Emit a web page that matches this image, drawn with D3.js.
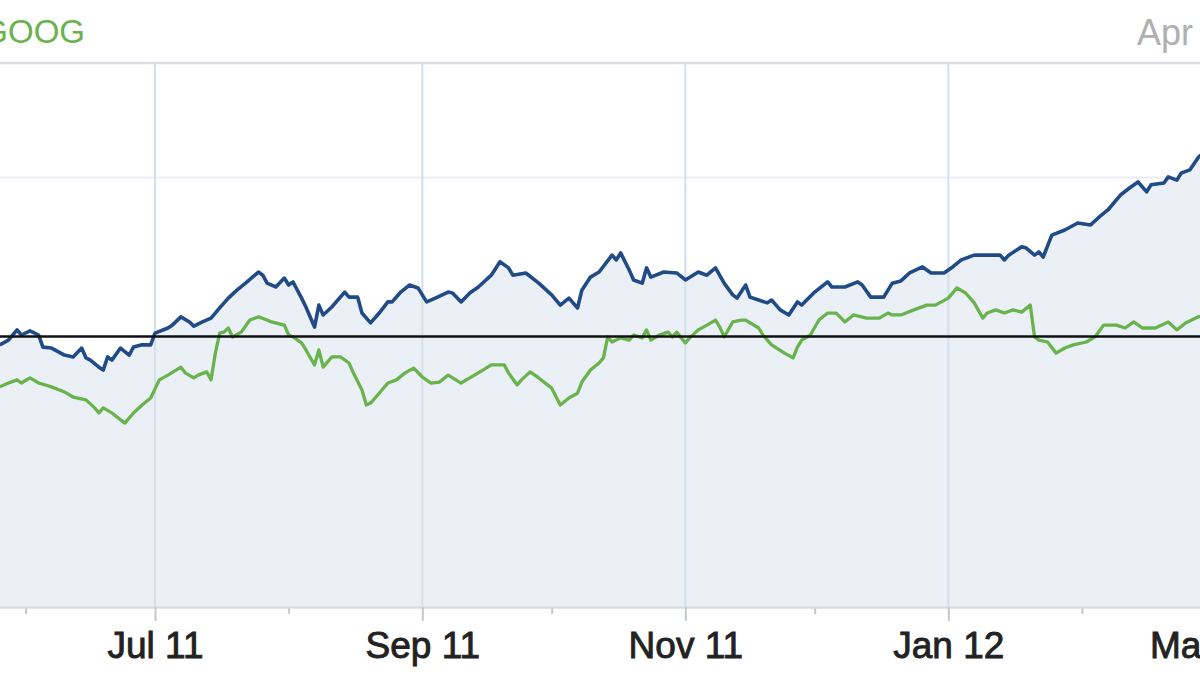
<!DOCTYPE html>
<html><head><meta charset="utf-8">
<script src="https://cdn.jsdelivr.net/npm/d3@7"></script>
<style>body{margin:0;background:#fff}svg{display:block}</style>
</head><body>
<svg id="chart" width="1200" height="675"></svg>
<script>
// ---- data (percent change from start of period) ----
const blueDates = ["2011-05-26","2011-05-28","2011-05-29","2011-05-30","2011-05-31","2011-06-02","2011-06-04","2011-06-05","2011-06-07","2011-06-10","2011-06-12","2011-06-14","2011-06-15","2011-06-16","2011-06-18","2011-06-19","2011-06-20","2011-06-21","2011-06-23","2011-06-25","2011-06-26","2011-06-28","2011-06-30",
"2011-07-01","2011-07-04","2011-07-05","2011-07-07","2011-07-09","2011-07-10","2011-07-12","2011-07-14","2011-07-16","2011-07-18","2011-07-20","2011-07-22","2011-07-25","2011-07-26","2011-07-27","2011-07-29","2011-07-31",
"2011-08-01","2011-08-02","2011-08-04","2011-08-05","2011-08-07","2011-08-08","2011-08-09","2011-08-11","2011-08-14","2011-08-15","2011-08-17","2011-08-18","2011-08-20","2011-08-22","2011-08-24","2011-08-25","2011-08-27","2011-08-29","2011-08-31",
"2011-09-02","2011-09-04","2011-09-07","2011-09-08","2011-09-10","2011-09-12","2011-09-14","2011-09-17","2011-09-19","2011-09-21","2011-09-22","2011-09-25","2011-09-28",
"2011-10-01","2011-10-03","2011-10-05","2011-10-07","2011-10-08","2011-10-10","2011-10-12","2011-10-15","2011-10-16","2011-10-17","2011-10-19","2011-10-20","2011-10-22","2011-10-23","2011-10-24","2011-10-27","2011-10-30",
"2011-11-01","2011-11-04","2011-11-06","2011-11-08","2011-11-10","2011-11-12","2011-11-13","2011-11-15","2011-11-16","2011-11-18","2011-11-20","2011-11-21","2011-11-23","2011-11-25","2011-11-27","2011-11-28",
"2011-12-01","2011-12-04","2011-12-05","2011-12-08","2011-12-11","2011-12-12","2011-12-14","2011-12-17","2011-12-19","2011-12-21","2011-12-23","2011-12-26","2011-12-28","2011-12-31",
"2012-01-02","2012-01-04","2012-01-07","2012-01-10","2012-01-13","2012-01-14","2012-01-15","2012-01-18","2012-01-19","2012-01-21","2012-01-22","2012-01-23","2012-01-25","2012-01-28","2012-01-31",
"2012-02-03","2012-02-05","2012-02-07","2012-02-10","2012-02-12","2012-02-14","2012-02-16","2012-02-17","2012-02-20","2012-02-21","2012-02-23","2012-02-24","2012-02-26","2012-02-28","2012-03-01"];
const blueValues = [-2.6,-1.1,0.5,2.1,0.5,1.8,0.5,-3.3,-3.6,-5.8,-6.4,-3.6,-6.7,-7.4,-9.6,-10.5,-6.4,-7.4,-3.6,-5.8,-3.3,-2.6,-2.6,
1.1,2.7,3.6,6.2,4.6,3.3,4.6,5.8,9.0,12.1,14.6,16.8,20.3,19.3,16.8,15.6,18.4,
16.2,17.2,12.1,9.3,3.0,9.9,6.8,9.3,14.0,12.4,12.4,7.4,4.3,7.4,10.9,10.9,14.0,16.2,15.3,
10.9,12.1,14.0,13.7,10.9,13.7,15.6,19.3,23.5,21.6,19.3,20.0,16.8,
13.1,9.9,12.1,9.0,14.6,18.7,20.3,25.6,24.1,26.3,20.9,17.8,16.8,21.6,18.7,20.3,20.0,
17.8,20.3,19.3,21.6,16.8,13.1,12.1,16.2,12.4,11.5,10.6,11.5,8.4,6.8,10.9,9.9,
14.0,17.2,15.6,15.6,17.2,16.2,12.4,12.4,16.8,17.5,20.0,21.9,20.0,20.0,
21.9,24.1,25.6,25.6,25.6,24.1,25.6,28.2,27.9,25.6,26.6,25.0,31.9,33.5,35.7,
35.1,37.6,39.8,44.6,46.7,48.6,45.5,47.7,48.3,50.2,49.2,51.4,52.4,56.4,58.7];

const greenDates = ["2011-05-26","2011-05-28","2011-05-30","2011-05-31","2011-06-02","2011-06-04","2011-06-07","2011-06-10","2011-06-12","2011-06-15","2011-06-17","2011-06-18","2011-06-19","2011-06-21","2011-06-24","2011-06-26","2011-06-28","2011-06-30",
"2011-07-02","2011-07-04","2011-07-07","2011-07-08","2011-07-10","2011-07-11","2011-07-13","2011-07-14","2011-07-15","2011-07-16","2011-07-17","2011-07-18","2011-07-19","2011-07-21","2011-07-23","2011-07-25","2011-07-27","2011-07-28","2011-07-31",
"2011-08-01","2011-08-02","2011-08-04","2011-08-05","2011-08-07","2011-08-08","2011-08-09","2011-08-11","2011-08-13","2011-08-15","2011-08-16","2011-08-18","2011-08-19","2011-08-20","2011-08-22","2011-08-24","2011-08-26","2011-08-28","2011-08-30",
"2011-09-01","2011-09-03","2011-09-05","2011-09-07","2011-09-10","2011-09-12","2011-09-14","2011-09-17","2011-09-20","2011-09-21","2011-09-23","2011-09-24","2011-09-26","2011-09-28",
"2011-10-01","2011-10-03","2011-10-05","2011-10-07","2011-10-08","2011-10-10","2011-10-12","2011-10-13","2011-10-14","2011-10-15","2011-10-17","2011-10-19","2011-10-20","2011-10-22","2011-10-23","2011-10-24","2011-10-26","2011-10-28","2011-10-29","2011-10-30",
"2011-11-01","2011-11-02","2011-11-04","2011-11-06","2011-11-08","2011-11-09","2011-11-10","2011-11-12","2011-11-14","2011-11-15","2011-11-18","2011-11-19","2011-11-21","2011-11-24","2011-11-26","2011-11-27","2011-11-28","2011-11-30",
"2011-12-02","2011-12-04","2011-12-06","2011-12-08","2011-12-10","2011-12-13","2011-12-16","2011-12-18","2011-12-19","2011-12-21","2011-12-24","2011-12-27","2011-12-29",
"2012-01-01","2012-01-03","2012-01-05","2012-01-07","2012-01-09","2012-01-10","2012-01-12","2012-01-14","2012-01-16","2012-01-18","2012-01-20","2012-01-21","2012-01-22","2012-01-24","2012-01-26","2012-01-28","2012-01-30",
"2012-02-02","2012-02-04","2012-02-06","2012-02-09","2012-02-11","2012-02-13","2012-02-15","2012-02-18","2012-02-21","2012-02-23","2012-02-25","2012-02-28","2012-03-01"];
const greenValues = [-15.8,-14.6,-13.6,-14.6,-13.0,-14.6,-15.8,-17.4,-19.0,-19.9,-22.4,-24.0,-22.4,-24.0,-27.2,-24.0,-21.5,-19.3,
-13.6,-12.1,-9.6,-11.4,-13.0,-12.1,-11.1,-13.6,-5.2,1.1,1.4,2.7,-0.1,1.4,5.2,6.2,5.2,4.6,3.6,
0.5,-0.1,-2.0,-4.2,-8.9,-4.2,-9.6,-6.4,-6.4,-8.3,-11.4,-16.8,-21.5,-20.9,-17.8,-14.6,-13.6,-11.4,-9.9,
-12.7,-14.6,-14.3,-12.1,-14.6,-13.0,-11.4,-8.9,-8.9,-11.4,-15.2,-13.6,-11.1,-13.0,
-16.2,-21.5,-19.3,-17.8,-14.3,-10.5,-8.3,-6.7,-0.1,-1.7,-0.4,-1.1,0.5,-0.4,2.1,-1.1,0.5,1.4,-0.1,1.4,
-2.0,-0.4,2.1,3.6,5.2,3.0,-0.1,4.6,5.2,5.2,2.7,0.5,-2.6,-5.2,-6.7,-3.3,-1.1,0.5,
5.2,7.4,7.4,4.6,6.8,5.8,5.8,7.4,6.8,6.8,8.4,9.9,9.9,
12.1,15.3,13.7,10.6,5.8,7.4,8.4,7.4,8.4,7.7,9.9,-0.1,-1.1,-1.7,-5.2,-3.6,-2.6,
-1.7,-0.1,3.6,3.6,2.7,4.6,2.7,2.7,4.6,2.1,4.3,6.2,7.0];

const seriesNames = ["GOOG"];
const periodLabel = "Apr";
const majorTickDates = ["2011-07-01","2011-09-01","2011-11-01","2012-01-01","2012-03-01"];
const majorTickLabels = ["Jul 11","Sep 11","Nov 11","Jan 12","Mar 12"];
const minorTickDates = ["2011-06-01","2011-08-01","2011-10-01","2011-12-01","2012-02-01"];
const gridValues = [50];
const baselineValue = 0;

// ---- drawing ----
const parse = d3.timeParse("%Y-%m-%d");
const blue = blueDates.map((d,i)=>({date:parse(d), v:blueValues[i]}));
const green = greenDates.map((d,i)=>({date:parse(d), v:greenValues[i]}));

const W = 1200, plotTop = 63, plotBottom = 607;
const x = d3.scaleTime().domain([parse("2011-07-01"), parse("2012-02-01")]).range([155, 1082]);
const y = d3.scaleLinear().domain([-85, 86]).range([plotBottom, plotTop]);

const svg = d3.select("#chart");
svg.append("defs").append("clipPath").attr("id","plot")
  .append("rect").attr("x",0).attr("y",plotTop).attr("width",W).attr("height",plotBottom-plotTop);

// horizontal grid
svg.append("g").selectAll("line").data(gridValues).join("line")
  .attr("x1",0).attr("x2",W).attr("y1",d=>y(d)).attr("y2",d=>y(d))
  .attr("stroke","#e9eef3").attr("stroke-width",2);

const plot = svg.append("g").attr("clip-path","url(#plot)");
plot.append("path").datum(blue)
  .attr("d", d3.area().x(d=>x(d.date)).y0(y(-85)).y1(d=>y(d.v)))
  .attr("fill","#eaf0f6");

// vertical grid at major ticks
plot.append("g").selectAll("line").data(majorTickDates).join("line")
  .attr("x1",d=>x(parse(d))).attr("x2",d=>x(parse(d)))
  .attr("y1",plotTop).attr("y2",plotBottom)
  .attr("stroke","#d3e0ec").attr("stroke-width",2);

// top frame line
svg.append("line").attr("x1",0).attr("x2",W).attr("y1",plotTop).attr("y2",plotTop)
  .attr("stroke","#dcdfe3").attr("stroke-width",2.5);

// baseline
svg.append("line").attr("x1",0).attr("x2",W).attr("y1",y(baselineValue)).attr("y2",y(baselineValue))
  .attr("stroke","#111").attr("stroke-width",2.5);

const line = d3.line().x(d=>x(d.date)).y(d=>y(d.v));
plot.append("path").datum(green).attr("d",line)
  .attr("fill","none").attr("stroke","#69b34c").attr("stroke-width",3.3).attr("stroke-linejoin","round");
plot.append("path").datum(blue).attr("d",line)
  .attr("fill","none").attr("stroke","#204b86").attr("stroke-width",3.6).attr("stroke-linejoin","round");

// axes
const axisMinor = d3.axisBottom(x).tickValues(minorTickDates.map(parse)).tickSize(7).tickFormat("");
const axisMajor = d3.axisBottom(x).tickValues(majorTickDates.map(parse)).tickSize(14).tickPadding(11)
  .tickFormat((d,i)=>majorTickLabels[i]);
const gMin = svg.append("g").attr("transform",`translate(0,${plotBottom})`).call(axisMinor);
const gMaj = svg.append("g").attr("transform",`translate(0,${plotBottom})`).call(axisMajor);
[gMin,gMaj].forEach(g=>{
  g.select(".domain").attr("stroke","#d8dde2").attr("stroke-width",2).attr("d",`M0,0.5H${W}`);
  g.selectAll(".tick line").attr("stroke","#c4c8cc").attr("stroke-width",2);
});
gMaj.selectAll(".tick text")
  .attr("font-family","'Liberation Sans', Arial, sans-serif")
  .attr("font-size",37).attr("fill","#222").attr("stroke","#222").attr("stroke-width",0.9);

// header texts
svg.append("text").attr("x",85).attr("y",43).attr("text-anchor","end")
  .attr("font-family","'Liberation Sans', Arial, sans-serif").attr("font-size",33)
  .attr("fill","#6ab24c").text(seriesNames[0]);
svg.append("text").attr("x",1137).attr("y",45)
  .attr("font-family","'Liberation Sans', Arial, sans-serif").attr("font-size",36)
  .attr("fill","#b0b0b0").text(periodLabel);
</script>
</body></html>
